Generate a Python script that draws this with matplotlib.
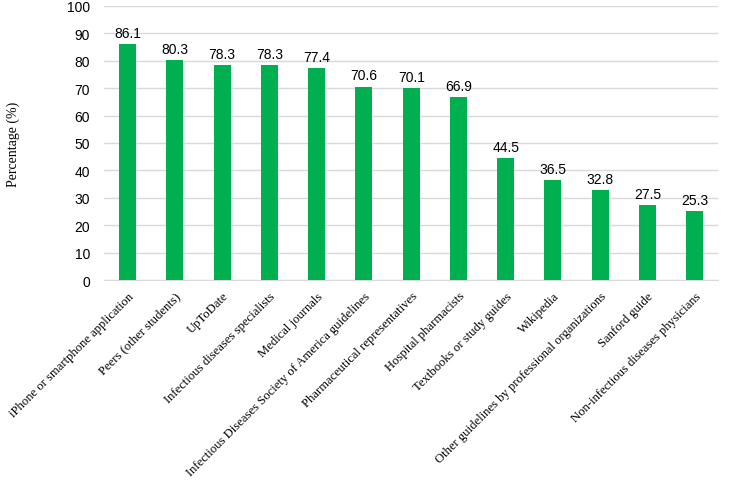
import matplotlib.pyplot as plt

sources = ["iPhone or smartphone application", "Peers (other students)", "UpToDate",
           "Infectious diseases specialists", "Medical journals",
           "Infectious Diseases Society of America guidelines",
           "Pharmaceutical representatives", "Hospital pharmacists",
           "Textbooks or study guides", "Wikipedia",
           "Other guidelines by professional organizations", "Sanford guide",
           "Non-infectious diseases physicians"]
percent = [86.1, 80.3, 78.3, 78.3, 77.4, 70.6, 70.1, 66.9, 44.5, 36.5, 32.8, 27.5, 25.3]

fig = plt.figure(figsize=(7.33, 4.85), dpi=100)
ax = fig.add_axes([0.142, 0.4206, 0.838, 0.565])

x = list(range(len(sources)))
bars = ax.bar(x, percent, width=0.36, color="#00B050", zorder=3)
for xi, v in zip(x, percent):
    ax.text(xi, v + 1.5, f"{v:.1f}", ha="center", va="bottom",
            fontsize=10, family="Liberation Sans")

ax.set_xlim(-0.5, len(sources) - 0.5)
ax.set_ylim(0, 100)
ax.set_yticks(range(0, 101, 10))
ax.yaxis.grid(True, color="#d9d9d9", linewidth=1, zorder=0)
for s in ["top", "right", "left"]:
    ax.spines[s].set_visible(False)
ax.spines["bottom"].set_color("#d9d9d9")
ax.tick_params(axis="both", length=0)
ax.tick_params(axis="y", pad=10)
for lab in ax.get_yticklabels():
    lab.set_family("Liberation Sans")
    lab.set_fontsize(10)

ax.set_xticks(x)
ax.set_xticklabels(sources, rotation=45, ha="right", rotation_mode="anchor",
                   family="Liberation Serif", fontsize=9.1)
ax.tick_params(axis="x", pad=7)
ax.set_ylabel("Percentage (%)", family="Liberation Serif", fontsize=10)
ax.yaxis.set_label_coords(-0.137, 0.5)

fig.savefig("out.png")
